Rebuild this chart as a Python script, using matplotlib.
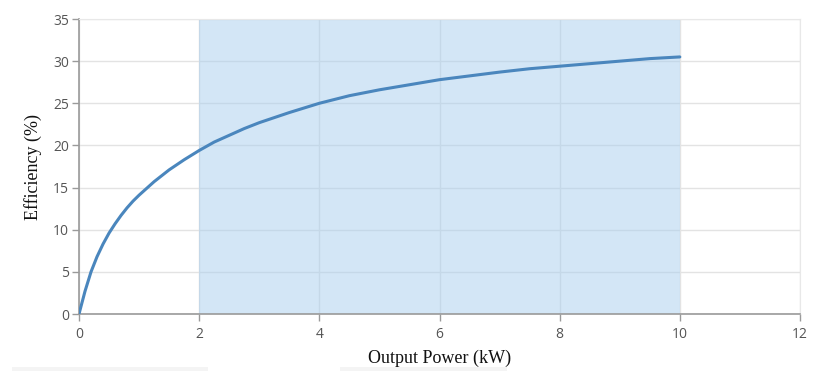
import numpy as np
import matplotlib.pyplot as plt
from matplotlib.patches import Rectangle

# output power (kW) vs efficiency (%)
power = [0, 0.1, 0.2, 0.3, 0.4, 0.5, 0.6, 0.7, 0.8, 0.9, 1.0, 1.25, 1.5, 1.75,
         2.0, 2.25, 2.5, 2.75, 3.0, 3.5, 4.0, 4.5, 5.0, 5.5, 6.0, 6.5, 7.0,
         7.5, 8.0, 8.5, 9.0, 9.5, 10.0]
efficiency = [0, 2.7, 5.0, 6.8, 8.3, 9.6, 10.7, 11.7, 12.6, 13.4, 14.1, 15.7, 17.1, 18.3,
              19.4, 20.4, 21.2, 22.0, 22.7, 23.9, 25.0, 25.9, 26.6, 27.2, 27.8, 28.25, 28.7,
              29.1, 29.4, 29.7, 30.0, 30.3, 30.5]

band = (2, 10)          # shaded operating range
xticks = [0, 2, 4, 6, 8, 10, 12]
yticks = [0, 5, 10, 15, 20, 25, 30, 35]

fig = plt.figure(figsize=(8.35, 3.82), dpi=100)
ax = fig.add_axes([79/835, 68/382, 721/835, 295/382])

ax.set_xlim(0, 12)
ax.set_ylim(0, 35)
ax.set_xticks(xticks)
ax.set_yticks(yticks)
ax.grid(True, color='#e3e3e3', lw=1)
ax.set_axisbelow(True)

ax.axvspan(band[0], band[1], color='#a8cfee', alpha=0.5, lw=0, zorder=1.5)
ax.plot(power, efficiency, color='#4a86bd', lw=2.2, zorder=3,
        solid_capstyle='round', solid_joinstyle='round')

for s in ['top', 'right']:
    ax.spines[s].set_color('#e8e8e8')
for s in ['left', 'bottom']:
    ax.spines[s].set_color('#9a9a9a')
    ax.spines[s].set_linewidth(1.2)

ax.tick_params(axis='both', colors='#9a9a9a', labelcolor='#555555',
               length=5, width=1, labelsize=10)
for lab in ax.get_xticklabels() + ax.get_yticklabels():
    lab.set_family('Open Sans')
ax.tick_params(axis='x', pad=4)
ax.tick_params(axis='y', pad=2)

ax.set_xlabel('Output Power (kW)', family='Liberation Serif', fontsize=13,
              color='#111111', labelpad=6)
ax.set_ylabel('Efficiency (%)', family='Liberation Serif', fontsize=13,
              color='#111111', labelpad=8)

# faint strips under the chart
for x0, x1 in [(12, 208), (340, 507)]:
    fig.patches.append(Rectangle((x0/835, 11/382), (x1-x0)/835, 4/382,
                                 transform=fig.transFigure, color='#f4f4f4', lw=0))

fig.savefig('out.png', dpi=100)
